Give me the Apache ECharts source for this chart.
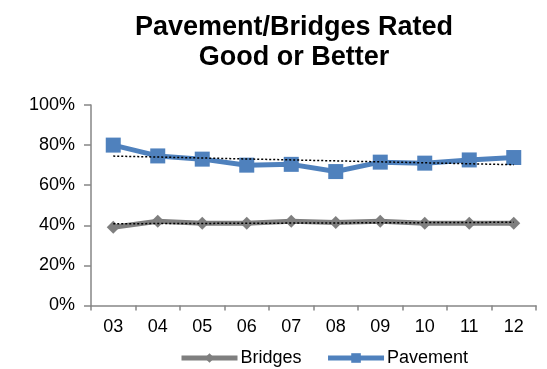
<!DOCTYPE html>
<html>
<head>
<meta charset="utf-8">
<script src="https://cdn.jsdelivr.net/npm/echarts@6/dist/echarts.min.js"></script>
<style>
  html, body { margin: 0; padding: 0; background: #fff; }
  #chart { width: 547px; height: 369px; }
</style>
</head>
<body>
<div id="chart"></div>
<script>
// Fiscal years (two-digit labels)
const years = ['03', '04', '05', '06', '07', '08', '09', '10', '11', '12'];
// Share rated good or better, percent
const bridges = [39, 42, 41, 41, 42, 41.4, 42, 41, 41, 41];
const pavement = [80, 74.6, 73, 70, 70.4, 66.8, 71.5, 71, 72.6, 73.8];
const yTicks = [0, 20, 40, 60, 80, 100];

// Least-squares linear trend across the category index
function linearTrend(values) {
  const n = values.length;
  let sx = 0, sy = 0, sxx = 0, sxy = 0;
  values.forEach((v, i) => { sx += i; sy += v; sxx += i * i; sxy += i * v; });
  const slope = (n * sxy - sx * sy) / (n * sxx - sx * sx);
  const icept = (sy - slope * sx) / n;
  return values.map((_, i) => icept + slope * i);
}

const chart = echarts.init(document.getElementById('chart'), null, { renderer: 'canvas' });
const font = 'Arial, "Liberation Sans", sans-serif';

chart.setOption({
  animation: false,
  textStyle: { fontFamily: font },
  title: {
    text: 'Pavement/Bridges Rated\nGood or Better',
    left: 294,
    top: 13,
    padding: 0,
    textAlign: 'center',
    textStyle: { fontSize: 27, fontWeight: 'bold', color: '#000', lineHeight: 29.5, fontFamily: font }
  },
  grid: { left: 91, right: 11, top: 105, bottom: 63.5, containLabel: false },
  legend: {
    data: ['Bridges', 'Pavement'],
    top: 349,
    left: 179,
    padding: 0,
    itemWidth: 56,
    itemHeight: 12,
    itemGap: 24,
    lineStyle: { width: 5 },
    textStyle: { fontSize: 18, color: '#000', fontFamily: font, padding: [0, 0, 0, -2] }
  },
  xAxis: {
    type: 'category',
    data: years,
    boundaryGap: true,
    axisLine: { lineStyle: { color: '#868686', width: 1.5 } },
    axisTick: { show: true, length: 5, lineStyle: { color: '#868686', width: 1.5 } },
    axisLabel: { fontSize: 18, color: '#000', margin: 13, fontFamily: font }
  },
  yAxis: {
    type: 'value',
    min: yTicks[0],
    max: yTicks[yTicks.length - 1],
    interval: 20,
    axisLine: { show: true, lineStyle: { color: '#868686', width: 1.5 } },
    axisTick: { show: true, length: 7, lineStyle: { color: '#868686', width: 1.5 } },
    splitLine: { show: false },
    axisLabel: { fontSize: 18, color: '#000', margin: 16, formatter: v => v + '%', fontFamily: font }
  },
  series: [
    {
      name: 'Bridges',
      type: 'line',
      data: bridges,
      symbol: 'diamond',
      symbolSize: 13,
      color: '#7f7f7f',
      lineStyle: { width: 5, color: '#7f7f7f' },
      itemStyle: { color: '#7f7f7f' },
      z: 2
    },
    {
      name: 'Pavement',
      type: 'line',
      data: pavement,
      symbol: 'rect',
      symbolSize: 15,
      color: '#4f81bd',
      lineStyle: { width: 5, color: '#4f81bd' },
      itemStyle: { color: '#4f81bd' },
      z: 2
    },
    {
      name: 'Bridges trend',
      type: 'line',
      data: linearTrend(bridges),
      symbol: 'none',
      silent: true,
      lineStyle: { width: 1.5, color: '#000', type: [2, 2] },
      z: 3
    },
    {
      name: 'Pavement trend',
      type: 'line',
      data: linearTrend(pavement),
      symbol: 'none',
      silent: true,
      lineStyle: { width: 1.5, color: '#000', type: [2, 2] },
      z: 3
    }
  ]
});
</script>
</body>
</html>
